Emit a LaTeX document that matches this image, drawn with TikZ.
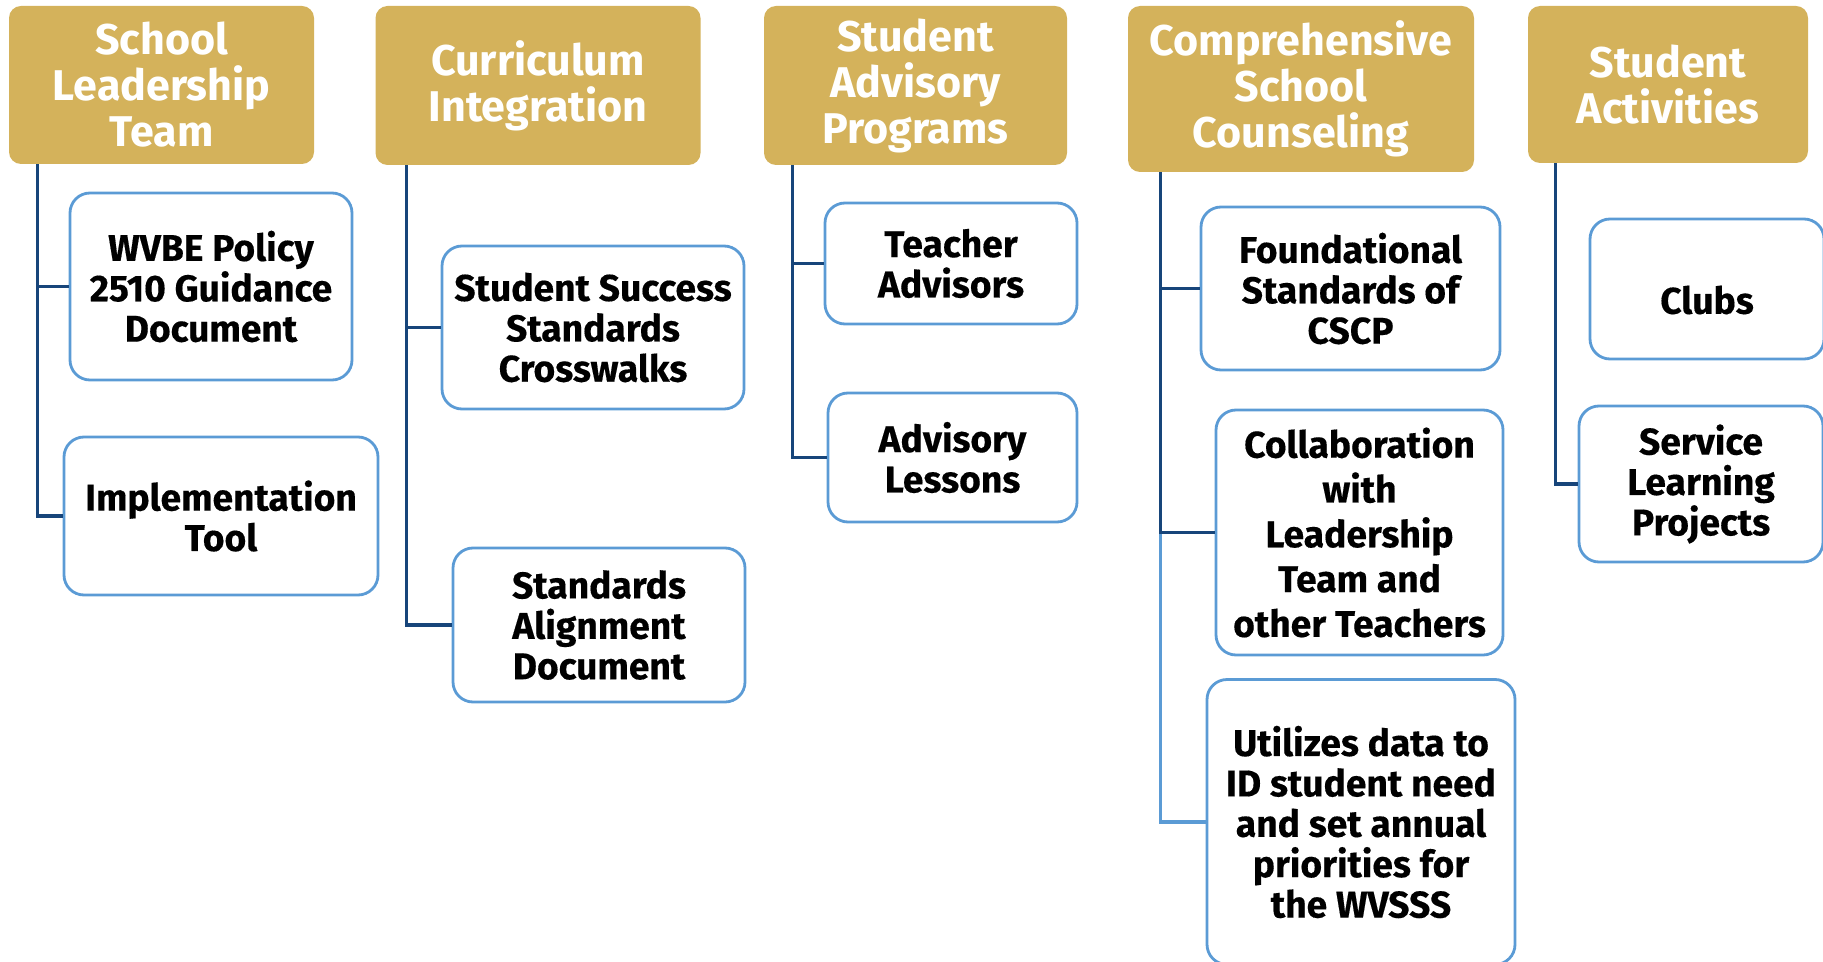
\documentclass[tikz,border=0pt]{standalone}
\usepackage{fontspec}
\setmainfont{Fira Sans}
\newfontfamily\itemfont{Fira Sans}[BoldFeatures={FakeBold=0.35}]
\usepackage{xcolor}
\usepackage{tikz}

\definecolor{headgold}{HTML}{D4B25B}
\definecolor{boxblue}{HTML}{5B9BD5}
\definecolor{linknavy}{HTML}{17457A}

\begin{document}
\begin{tikzpicture}[
  x=0.5pt, y=-0.5pt,
  every node/.style={align=center},
  header/.style={fill=headgold, rounded corners=6pt, text=white, inner sep=0pt,
    font=\fontsize{21.5}{23}\selectfont\bfseries},
  item/.style={draw=boxblue, line width=1.4pt, fill=white, rounded corners=10pt, inner sep=0pt,
    font=\itemfont\fontsize{18.6}{20.2}\selectfont\bfseries},
  link/.style={linknavy, line width=1.6pt},
  softlink/.style={boxblue, line width=1.6pt}
]
\clip (0,0) rectangle (1823,962);

% column headers
\node[header, minimum width=152.5pt, minimum height=79pt] (lead-team) at (161.5,85) {School\\Leadership\\Team};
\node[header, minimum width=162.5pt, minimum height=79.5pt] (curric) at (538,85.5) {Curriculum\\Integration};
\node[header, minimum width=151.5pt, minimum height=79.5pt] (advisory) at (915.5,85.5) {Student\\Advisory\\Programs};
\node[header, minimum width=173pt, minimum height=83pt] (counsel) at (1301,89) {Comprehensive\\School\\Counseling};
\node[header, minimum width=140pt, minimum height=78.5pt] (activities) at (1668,84.5) {Student\\Activities};

% items under each header
\node[item, minimum width=141pt, minimum height=93.5pt] (wvbe-doc) at (211,286.5) {WVBE Policy\\2510 Guidance\\Document};
\node[item, minimum width=157pt, minimum height=79pt] (impl-tool) at (221,516) {Implementation\\Tool};

\node[item, minimum width=151pt, minimum height=81.5pt] (crosswalks) at (593,327.5) {Student Success\\Standards\\Crosswalks};
\node[item, minimum width=146pt, minimum height=77pt] (align-doc) at (599,625) {Standards\\Alignment\\Document};

\node[item, minimum width=126pt, minimum height=60.5pt] (teach-adv) at (951,263.5) {Teacher\\Advisors};
\node[item, minimum width=124.5pt, minimum height=64.5pt] (adv-lessons) at (952.5,457.5) {Advisory\\Lessons};

\node[item, minimum width=149.5pt, minimum height=81.5pt] (found-std) at (1350.5,288.5) {Foundational\\Standards of\\CSCP};
\node[item, minimum width=143.5pt, minimum height=122.5pt,
  font=\itemfont\fontsize{18.6}{22.4}\selectfont\bfseries] (collab) at (1359.5,532.5) {Collaboration\\with\\Leadership\\Team and\\other Teachers};
\node[item, minimum width=154pt, minimum height=142.5pt] (data-use) at (1361,822) {Utilizes data to\\ID student need\\and set annual\\priorities for\\the WVSSS};

\node[item, minimum width=117pt, minimum height=70pt] (clubs) at (1707,289) {\raisebox{-5.5pt}[\height][\depth]{Clubs}};
\node[item, minimum width=122pt, minimum height=78pt] (service) at (1701,484) {Service\\Learning\\Projects};

% elbow connectors
\draw[link] ([xshift=14.5pt]lead-team.south west) |- (wvbe-doc.west);
\draw[link] ([xshift=14.5pt]lead-team.south west) |- (impl-tool.west);
\draw[link] ([xshift=15.5pt]curric.south west) |- (crosswalks.west);
\draw[link] ([xshift=15.5pt]curric.south west) |- (align-doc.west);
\draw[link] ([xshift=14.5pt]advisory.south west) |- (teach-adv.west);
\draw[link] ([xshift=14.5pt]advisory.south west) |- (adv-lessons.west);
\draw[softlink] ([xshift=16.5pt]counsel.south west) |- (data-use.west);
\draw[link] ([xshift=16.5pt]counsel.south west) |- (found-std.west);
\draw[link] ([xshift=16.5pt]counsel.south west) |- (collab.west);
\draw[link] ([xshift=14pt]activities.south west) |- (service.west);
\end{tikzpicture}
\end{document}
